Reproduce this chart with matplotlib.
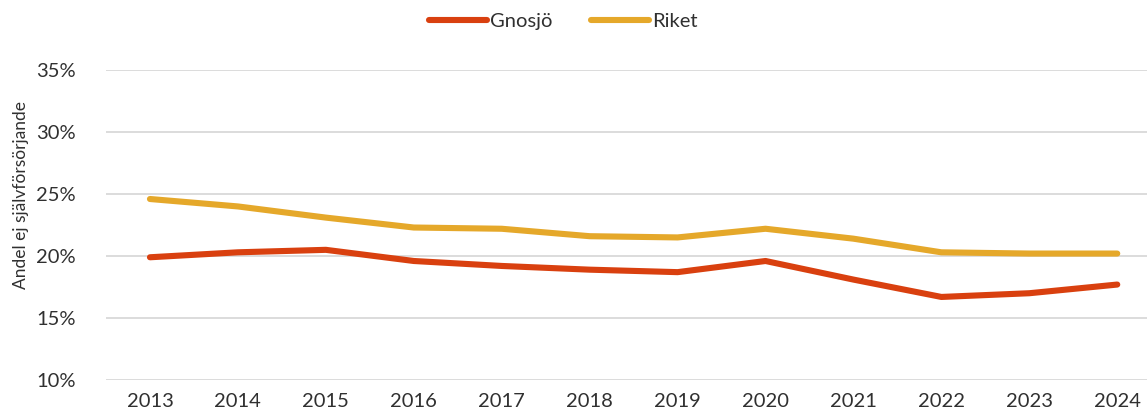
import matplotlib.pyplot as plt
from matplotlib.ticker import FuncFormatter

years = [2013, 2014, 2015, 2016, 2017, 2018, 2019, 2020, 2021, 2022, 2023, 2024]
gnosjo = [19.9, 20.3, 20.5, 19.6, 19.2, 18.9, 18.7, 19.6, 18.1, 16.7, 17.0, 17.7]
riket = [24.6, 24.0, 23.1, 22.3, 22.2, 21.6, 21.5, 22.2, 21.4, 20.3, 20.2, 20.2]

plt.rcParams['font.family'] = ['Lato', 'DejaVu Sans']
text_color = '#303030'

fig = plt.figure(figsize=(11.47, 4.2), dpi=100)
ax = fig.add_axes([0.0924, 0.0952, 0.92, 0.738])

x = list(range(len(years)))
ax.plot(x, gnosjo, color='#D9400F', lw=4.4, solid_capstyle='round', label='Gnosjö', clip_on=False)
ax.plot(x, riket, color='#E5A82A', lw=4.4, solid_capstyle='round', label='Riket', clip_on=False)

ax.set_ylim(10, 35)
ax.set_yticks([10, 15, 20, 25, 30, 35])
ax.yaxis.set_major_formatter(FuncFormatter(lambda v, p: f'{v:.0f}%'))
ax.set_xlim(-0.5, len(years) - 0.5)
ax.set_xticks(x)
ax.set_xticklabels([str(y) for y in years])

ax.grid(axis='y', color='#d9d9d9', lw=1.3)
ax.set_axisbelow(True)
for s in ax.spines.values():
    s.set_visible(False)
ax.tick_params(length=0, labelsize=14.5, colors=text_color, labelcolor=text_color)
ax.tick_params(axis='y', pad=22)
ax.tick_params(axis='x', pad=9)

fig.text(0.018, 0.535, 'Andel ej självförsörjande', rotation=90, ha='center', va='center',
         fontsize=12.5, color=text_color)

leg = fig.legend(loc='center', bbox_to_anchor=(0.491, 0.948), ncol=2, frameon=False,
                 fontsize=14.5, handlelength=2.9, handletextpad=0.15, columnspacing=1.9)
for t in leg.get_texts():
    t.set_color(text_color)

fig.savefig('out.png', dpi=100)
